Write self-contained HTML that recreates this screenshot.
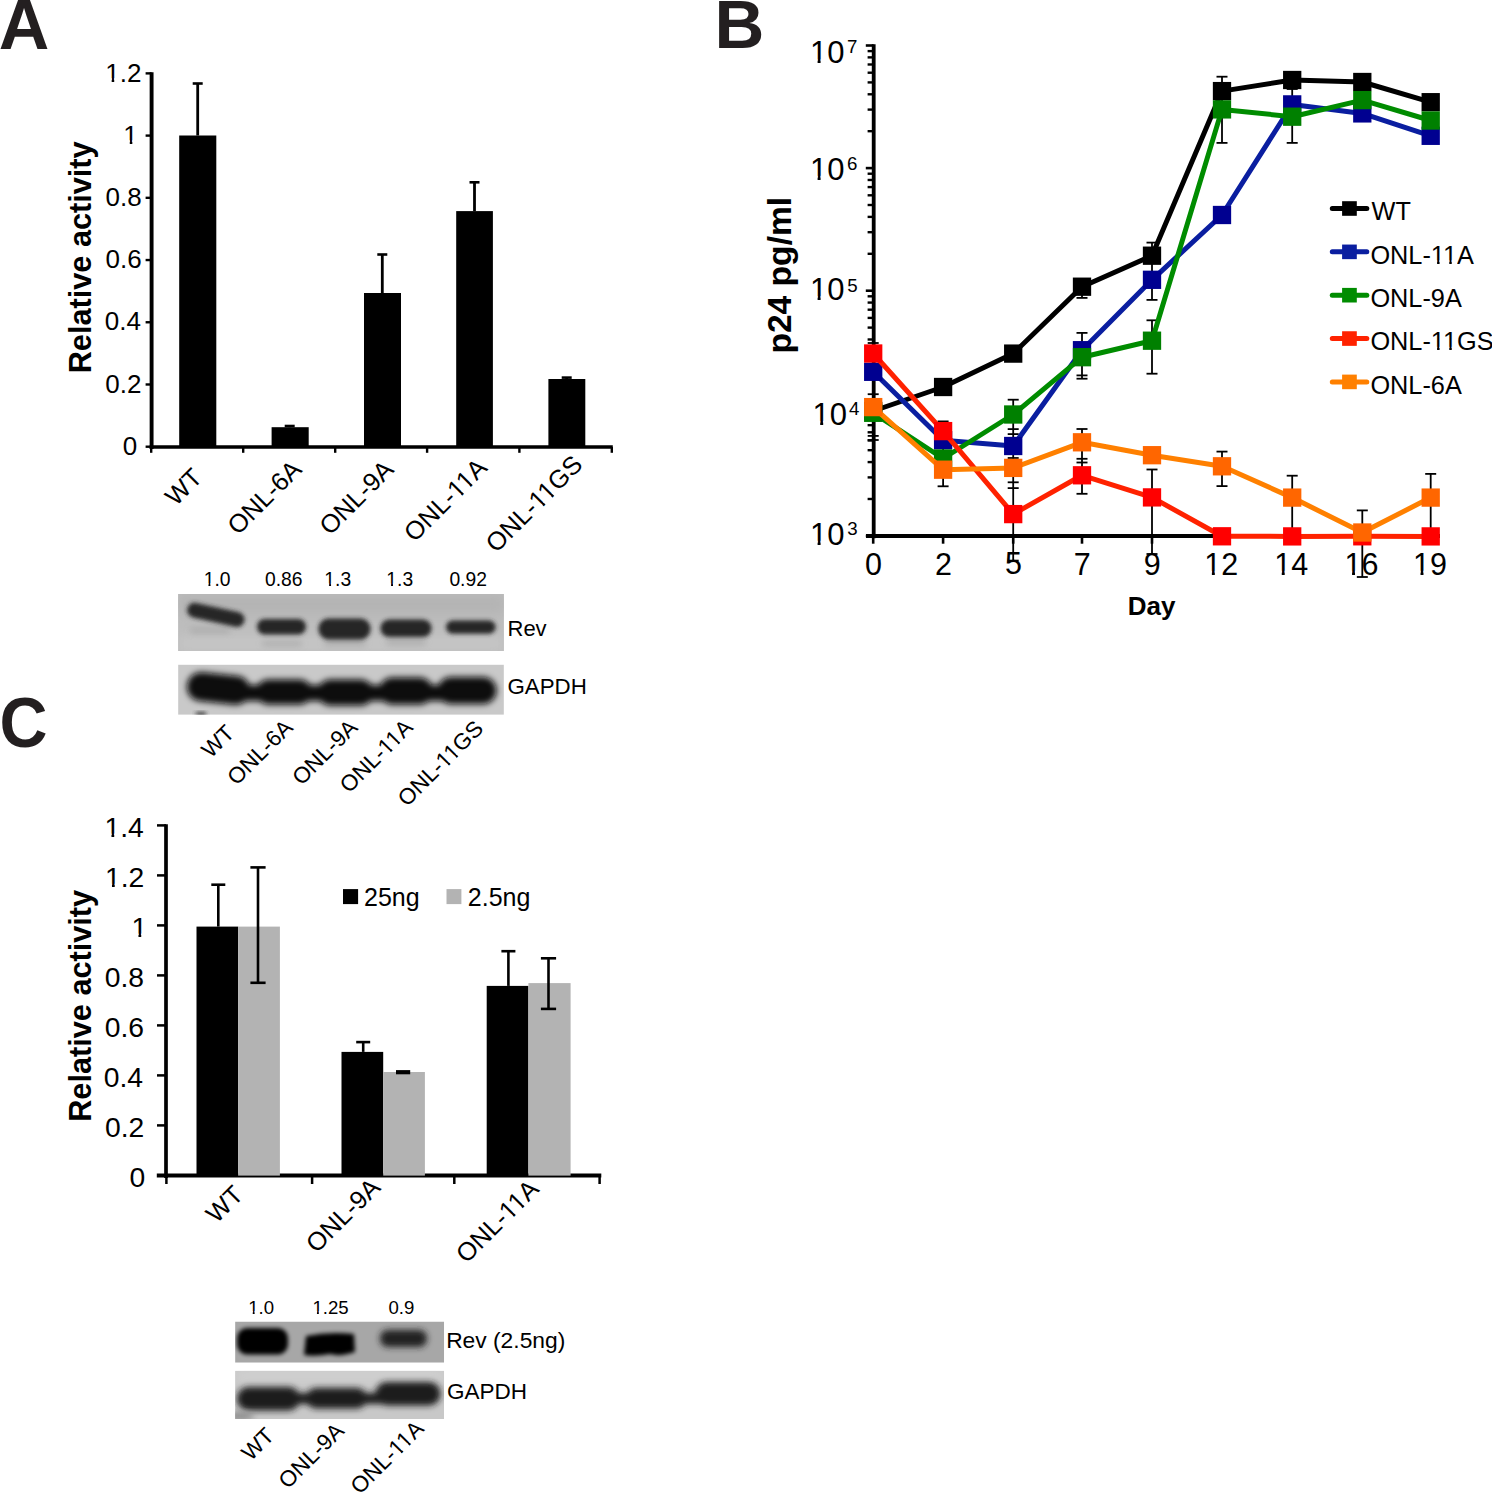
<!DOCTYPE html>
<html><head><meta charset="utf-8"><style>
html,body{margin:0;padding:0;background:#fff;}
svg{display:block;}
text{font-family:"Liberation Sans",sans-serif;}
</style></head><body>
<svg width="1492" height="1492" viewBox="0 0 1492 1492">
<rect width="1492" height="1492" fill="#fff"/>

<defs>
<filter id="b2" x="-20%" y="-50%" width="140%" height="200%"><feGaussianBlur stdDeviation="2.2"/></filter>
<filter id="b3" x="-20%" y="-50%" width="140%" height="200%"><feGaussianBlur stdDeviation="3"/></filter>
<filter id="b6" x="-20%" y="-50%" width="140%" height="200%"><feGaussianBlur stdDeviation="6"/></filter>
<clipPath id="cA1"><rect x="178.1" y="594" width="325.8" height="57"/></clipPath>
<clipPath id="cA2"><rect x="178.1" y="664.6" width="325.8" height="50.2"/></clipPath>
<clipPath id="cC1"><rect x="235.1" y="1321.5" width="209" height="41.2"/></clipPath>
<clipPath id="cC2"><rect x="235.1" y="1370.8" width="209" height="48.2"/></clipPath>
</defs>
<g clip-path="url(#cA1)">
<rect x="178.1" y="594" width="325.8" height="57" fill="#bdbdbd"/>
<rect x="178.1" y="594" width="325.8" height="20" fill="#b4b4b4" filter="url(#b6)"/>
<rect x="178.1" y="636" width="325.8" height="15" fill="#c6c6c6" filter="url(#b6)"/>
<g filter="url(#b3)" fill="#9a9a9a" opacity="0.55">
<rect x="262" y="641" width="40" height="5" rx="2"/>
<rect x="324" y="639" width="42" height="7" rx="3"/>
<rect x="386" y="639" width="40" height="6" rx="3"/>
<rect x="190" y="628" width="40" height="5" rx="2"/>
</g>
<g filter="url(#b2)" fill="#262626">
<path d="M196 603 L238 612 A7.5 7.5 0 0 1 236 627 L193 617.5 A7.2 7.2 0 0 1 196 603 Z"/>
<rect x="257" y="619" width="49" height="15.5" rx="7.7"/>
<rect x="318.5" y="618.5" width="52" height="21" rx="10"/>
<rect x="380.5" y="619.5" width="51" height="17.5" rx="8.7"/>
<rect x="446" y="620.5" width="49.6" height="13.2" rx="6.6"/>
</g>
</g>
<g clip-path="url(#cA2)">
<rect x="178.1" y="664.6" width="325.8" height="50.2" fill="#c9c9c9"/>
<g filter="url(#b3)" fill="#0a0a0a">
<rect x="187" y="674" width="63" height="29" rx="14" transform="rotate(6 218.5 688.5)"/>
<rect x="256" y="679.5" width="56" height="25" rx="12.5"/>
<rect x="317.5" y="679.5" width="56" height="26" rx="13"/>
<rect x="379" y="677.5" width="54" height="27" rx="13.5"/>
<rect x="437.5" y="677" width="59" height="27" rx="13.5"/>
<rect x="200" y="685" width="290" height="16"/>
</g>
<ellipse cx="201" cy="714" rx="6" ry="2" fill="#333" filter="url(#b2)"/>
</g>
<g clip-path="url(#cC1)">
<rect x="235.1" y="1321.5" width="209" height="41.2" fill="#a7a7a7"/>
<g filter="url(#b2)">
<rect x="237" y="1328" width="51" height="26.5" rx="10" fill="#050505"/>
<path d="M306 1336 Q330 1331 354 1334 L355 1352 Q340 1357 330 1354 Q315 1357 304 1355 Z" fill="#050505"/>
</g>
<g filter="url(#b3)">
<rect x="380" y="1330" width="47" height="17" rx="8" fill="#202020"/>
</g>
</g>
<g clip-path="url(#cC2)">
<rect x="235.1" y="1370.8" width="209" height="48.2" fill="#c8c8c8"/>
<rect x="235.1" y="1370.8" width="209" height="10" fill="#d2d2d2" filter="url(#b6)"/>
<g filter="url(#b3)" fill="#1c1c1c">
<rect x="237" y="1387" width="63" height="23.5" rx="11.7"/>
<rect x="306" y="1388" width="61" height="20.5" rx="10.2"/>
<rect x="375.5" y="1382" width="65" height="23.5" rx="11.7"/>
<rect x="285" y="1393" width="105" height="11"/>
</g>
<ellipse cx="240" cy="1416" rx="14" ry="4" fill="#8a8a8a" filter="url(#b3)"/>
</g>
<text x="-1.38" y="48.73" font-size="70" font-weight="bold" fill="#231f20">A</text>
<text x="714.55" y="48.39" font-size="69" font-weight="bold" fill="#231f20">B</text>
<text transform="translate(-0.45 747.13) scale(0.95 1)" font-size="70" font-weight="bold" fill="#231f20">C</text>
<line x1="151.6" y1="72.3" x2="151.6" y2="449" stroke="#000" stroke-width="3.9" stroke-linecap="butt"/>
<line x1="145.6" y1="446.7" x2="151.6" y2="446.7" stroke="#000" stroke-width="2.4" stroke-linecap="butt"/>
<line x1="145.6" y1="384.48" x2="151.6" y2="384.48" stroke="#000" stroke-width="2.4" stroke-linecap="butt"/>
<line x1="145.6" y1="322.26" x2="151.6" y2="322.26" stroke="#000" stroke-width="2.4" stroke-linecap="butt"/>
<line x1="145.6" y1="260.04" x2="151.6" y2="260.04" stroke="#000" stroke-width="2.4" stroke-linecap="butt"/>
<line x1="145.6" y1="197.82" x2="151.6" y2="197.82" stroke="#000" stroke-width="2.4" stroke-linecap="butt"/>
<line x1="145.6" y1="135.6" x2="151.6" y2="135.6" stroke="#000" stroke-width="2.4" stroke-linecap="butt"/>
<line x1="145.6" y1="73.38" x2="151.6" y2="73.38" stroke="#000" stroke-width="2.4" stroke-linecap="butt"/>
<line x1="149.7" y1="447" x2="612.8" y2="447" stroke="#000" stroke-width="3.6" stroke-linecap="butt"/>
<line x1="151.2" y1="447" x2="151.2" y2="452.8" stroke="#000" stroke-width="2.4" stroke-linecap="butt"/>
<line x1="243.2" y1="447" x2="243.2" y2="452.8" stroke="#000" stroke-width="2.4" stroke-linecap="butt"/>
<line x1="335.2" y1="447" x2="335.2" y2="452.8" stroke="#000" stroke-width="2.4" stroke-linecap="butt"/>
<line x1="427.1" y1="447" x2="427.1" y2="452.8" stroke="#000" stroke-width="2.4" stroke-linecap="butt"/>
<line x1="519.4" y1="447" x2="519.4" y2="452.8" stroke="#000" stroke-width="2.4" stroke-linecap="butt"/>
<line x1="611.8" y1="447" x2="611.8" y2="452.8" stroke="#000" stroke-width="2.4" stroke-linecap="butt"/>
<text x="122.73" y="454.84" font-size="26" fill="#000">0</text>
<text x="105.26" y="392.62" font-size="26" fill="#000">0.2</text>
<text x="104.81" y="330.4" font-size="26" fill="#000">0.4</text>
<text x="105.48" y="268.18" font-size="26" fill="#000">0.6</text>
<text x="105.48" y="205.96" font-size="26" fill="#000">0.8</text>
<text id="t1_1" x="123.36" y="143.74" font-size="26" fill="#000">1</text>
<g fill="#fff"><rect x="123.54" y="140.2" width="6.24" height="4.54"/><rect x="132.32" y="140.2" width="5.44" height="4.54"/></g>
<text id="t1_2" x="105.26" y="81.65" font-size="26" fill="#000">1.2</text>
<g fill="#fff"><rect x="105.44" y="78.11" width="6.24" height="4.54"/><rect x="114.22" y="78.11" width="5.44" height="4.54"/></g>
<text transform="translate(91.46 373.33) rotate(-90)" font-size="30.7" font-weight="bold" fill="#000">Relative activity</text>
<rect x="179.2" y="135.5" width="37.1" height="311.5" fill="#000"/>
<line x1="197.7" y1="135.5" x2="197.7" y2="83.5" stroke="#000" stroke-width="2.8" stroke-linecap="butt"/>
<line x1="192.7" y1="83.5" x2="202.7" y2="83.5" stroke="#000" stroke-width="2.6" stroke-linecap="butt"/>
<rect x="271.6" y="427.2" width="37.1" height="19.8" fill="#000"/>
<line x1="289.7" y1="427.2" x2="289.7" y2="426" stroke="#000" stroke-width="2.8" stroke-linecap="butt"/>
<line x1="284.7" y1="426" x2="294.7" y2="426" stroke="#000" stroke-width="2.6" stroke-linecap="butt"/>
<rect x="364" y="293" width="37" height="154" fill="#000"/>
<line x1="382.3" y1="293" x2="382.3" y2="254.5" stroke="#000" stroke-width="2.8" stroke-linecap="butt"/>
<line x1="377.3" y1="254.5" x2="387.3" y2="254.5" stroke="#000" stroke-width="2.6" stroke-linecap="butt"/>
<rect x="456.2" y="211.1" width="36.7" height="235.9" fill="#000"/>
<line x1="474.5" y1="211.1" x2="474.5" y2="182.3" stroke="#000" stroke-width="2.8" stroke-linecap="butt"/>
<line x1="469.5" y1="182.3" x2="479.5" y2="182.3" stroke="#000" stroke-width="2.6" stroke-linecap="butt"/>
<rect x="548.4" y="379" width="36.9" height="68" fill="#000"/>
<line x1="566.7" y1="379" x2="566.7" y2="377.6" stroke="#000" stroke-width="2.8" stroke-linecap="butt"/>
<line x1="561.7" y1="377.6" x2="571.7" y2="377.6" stroke="#000" stroke-width="2.6" stroke-linecap="butt"/>
<text transform="translate(203.7 478.9) rotate(-45)" font-size="25.5" text-anchor="end" fill="#000">WT</text>
<text transform="translate(303.05 470.95) rotate(-45)" font-size="25.5" text-anchor="end" fill="#000">ONL-6A</text>
<text transform="translate(395.05 471.05) rotate(-45)" font-size="25.5" text-anchor="end" fill="#000">ONL-9A</text>
<text id="t1_3" transform="translate(488.45 469.25) rotate(-45)" font-size="25.5" text-anchor="end" fill="#000">ONL-11A</text>
<g fill="#fff" transform="translate(488.45 469.25) rotate(-45)"><rect x="-43.34" y="-3.51" width="6.15" height="4.51"/><rect x="-34.7" y="-3.51" width="5.35" height="4.51"/><rect x="-31.06" y="-3.51" width="6.15" height="4.51"/><rect x="-22.42" y="-3.51" width="5.35" height="4.51"/></g>
<text id="t1_4" transform="translate(584.05 465.9) rotate(-45)" font-size="25.5" text-anchor="end" fill="#000">ONL-11GS</text>
<g fill="#fff" transform="translate(584.05 465.9) rotate(-45)"><rect x="-63.18" y="-3.51" width="6.15" height="4.51"/><rect x="-54.54" y="-3.51" width="5.35" height="4.51"/><rect x="-50.9" y="-3.51" width="6.15" height="4.51"/><rect x="-42.26" y="-3.51" width="5.35" height="4.51"/></g>
<text id="t1_5" x="203.72" y="586.44" font-size="19.3" fill="#000">1.0</text>
<g fill="#fff"><rect x="203.44" y="583.4" width="5.01" height="4.04"/><rect x="210.4" y="583.4" width="4.26" height="4.04"/></g>
<text x="264.96" y="586.44" font-size="19.3" fill="#000">0.86</text>
<text id="t1_6" x="324.37" y="586.44" font-size="19.3" fill="#000">1.3</text>
<g fill="#fff"><rect x="324.09" y="583.4" width="5.01" height="4.04"/><rect x="331.05" y="583.4" width="4.26" height="4.04"/></g>
<text id="t1_7" x="386.32" y="586.44" font-size="19.3" fill="#000">1.3</text>
<g fill="#fff"><rect x="386.04" y="583.4" width="5.01" height="4.04"/><rect x="393" y="583.4" width="4.26" height="4.04"/></g>
<text x="449.38" y="586.44" font-size="19.3" fill="#000">0.92</text>
<text x="507.5" y="635.66" font-size="22" fill="#000">Rev</text>
<text x="507.49" y="694.22" font-size="22.3" fill="#000">GAPDH</text>
<text transform="translate(235.6 734.25) rotate(-45)" font-size="22.5" text-anchor="end" fill="#000">WT</text>
<text transform="translate(294 728.9) rotate(-45)" font-size="22.5" text-anchor="end" fill="#000">ONL-6A</text>
<text transform="translate(358.9 728.85) rotate(-45)" font-size="22.5" text-anchor="end" fill="#000">ONL-9A</text>
<text id="t1_8" transform="translate(414.2 728.75) rotate(-45)" font-size="22.5" text-anchor="end" fill="#000">ONL-11A</text>
<g fill="#fff" transform="translate(414.2 728.75) rotate(-45)"><rect x="-38.44" y="-3.28" width="5.6" height="4.28"/><rect x="-30.61" y="-3.28" width="4.82" height="4.28"/><rect x="-27.59" y="-3.28" width="5.6" height="4.28"/><rect x="-19.76" y="-3.28" width="4.82" height="4.28"/></g>
<text id="t1_9" transform="translate(484.6 729.9) rotate(-45)" font-size="22.5" text-anchor="end" fill="#000">ONL-11GS</text>
<g fill="#fff" transform="translate(484.6 729.9) rotate(-45)"><rect x="-55.94" y="-3.28" width="5.6" height="4.28"/><rect x="-48.11" y="-3.28" width="4.82" height="4.28"/><rect x="-45.09" y="-3.28" width="5.6" height="4.28"/><rect x="-37.26" y="-3.28" width="4.82" height="4.28"/></g>
<line x1="873.7" y1="44.2" x2="873.7" y2="538.2" stroke="#000" stroke-width="3.8" stroke-linecap="butt"/>
<line x1="865.8" y1="535.9" x2="873.7" y2="535.9" stroke="#000" stroke-width="2.6" stroke-linecap="butt"/>
<line x1="867.6" y1="498.99" x2="873.7" y2="498.99" stroke="#000" stroke-width="2.4" stroke-linecap="butt"/>
<line x1="867.6" y1="477.4" x2="873.7" y2="477.4" stroke="#000" stroke-width="2.4" stroke-linecap="butt"/>
<line x1="867.6" y1="462.09" x2="873.7" y2="462.09" stroke="#000" stroke-width="2.4" stroke-linecap="butt"/>
<line x1="867.6" y1="450.21" x2="873.7" y2="450.21" stroke="#000" stroke-width="2.4" stroke-linecap="butt"/>
<line x1="867.6" y1="440.5" x2="873.7" y2="440.5" stroke="#000" stroke-width="2.4" stroke-linecap="butt"/>
<line x1="867.6" y1="432.29" x2="873.7" y2="432.29" stroke="#000" stroke-width="2.4" stroke-linecap="butt"/>
<line x1="867.6" y1="425.18" x2="873.7" y2="425.18" stroke="#000" stroke-width="2.4" stroke-linecap="butt"/>
<line x1="867.6" y1="418.91" x2="873.7" y2="418.91" stroke="#000" stroke-width="2.4" stroke-linecap="butt"/>
<line x1="865.8" y1="413.3" x2="873.7" y2="413.3" stroke="#000" stroke-width="2.6" stroke-linecap="butt"/>
<line x1="867.6" y1="376.39" x2="873.7" y2="376.39" stroke="#000" stroke-width="2.4" stroke-linecap="butt"/>
<line x1="867.6" y1="354.8" x2="873.7" y2="354.8" stroke="#000" stroke-width="2.4" stroke-linecap="butt"/>
<line x1="867.6" y1="339.49" x2="873.7" y2="339.49" stroke="#000" stroke-width="2.4" stroke-linecap="butt"/>
<line x1="867.6" y1="327.61" x2="873.7" y2="327.61" stroke="#000" stroke-width="2.4" stroke-linecap="butt"/>
<line x1="867.6" y1="317.9" x2="873.7" y2="317.9" stroke="#000" stroke-width="2.4" stroke-linecap="butt"/>
<line x1="867.6" y1="309.69" x2="873.7" y2="309.69" stroke="#000" stroke-width="2.4" stroke-linecap="butt"/>
<line x1="867.6" y1="302.58" x2="873.7" y2="302.58" stroke="#000" stroke-width="2.4" stroke-linecap="butt"/>
<line x1="867.6" y1="296.31" x2="873.7" y2="296.31" stroke="#000" stroke-width="2.4" stroke-linecap="butt"/>
<line x1="865.8" y1="290.7" x2="873.7" y2="290.7" stroke="#000" stroke-width="2.6" stroke-linecap="butt"/>
<line x1="867.6" y1="253.79" x2="873.7" y2="253.79" stroke="#000" stroke-width="2.4" stroke-linecap="butt"/>
<line x1="867.6" y1="232.2" x2="873.7" y2="232.2" stroke="#000" stroke-width="2.4" stroke-linecap="butt"/>
<line x1="867.6" y1="216.89" x2="873.7" y2="216.89" stroke="#000" stroke-width="2.4" stroke-linecap="butt"/>
<line x1="867.6" y1="205.01" x2="873.7" y2="205.01" stroke="#000" stroke-width="2.4" stroke-linecap="butt"/>
<line x1="867.6" y1="195.3" x2="873.7" y2="195.3" stroke="#000" stroke-width="2.4" stroke-linecap="butt"/>
<line x1="867.6" y1="187.09" x2="873.7" y2="187.09" stroke="#000" stroke-width="2.4" stroke-linecap="butt"/>
<line x1="867.6" y1="179.98" x2="873.7" y2="179.98" stroke="#000" stroke-width="2.4" stroke-linecap="butt"/>
<line x1="867.6" y1="173.71" x2="873.7" y2="173.71" stroke="#000" stroke-width="2.4" stroke-linecap="butt"/>
<line x1="865.8" y1="168.1" x2="873.7" y2="168.1" stroke="#000" stroke-width="2.6" stroke-linecap="butt"/>
<line x1="867.6" y1="131.19" x2="873.7" y2="131.19" stroke="#000" stroke-width="2.4" stroke-linecap="butt"/>
<line x1="867.6" y1="109.6" x2="873.7" y2="109.6" stroke="#000" stroke-width="2.4" stroke-linecap="butt"/>
<line x1="867.6" y1="94.29" x2="873.7" y2="94.29" stroke="#000" stroke-width="2.4" stroke-linecap="butt"/>
<line x1="867.6" y1="82.41" x2="873.7" y2="82.41" stroke="#000" stroke-width="2.4" stroke-linecap="butt"/>
<line x1="867.6" y1="72.7" x2="873.7" y2="72.7" stroke="#000" stroke-width="2.4" stroke-linecap="butt"/>
<line x1="867.6" y1="64.49" x2="873.7" y2="64.49" stroke="#000" stroke-width="2.4" stroke-linecap="butt"/>
<line x1="867.6" y1="57.38" x2="873.7" y2="57.38" stroke="#000" stroke-width="2.4" stroke-linecap="butt"/>
<line x1="867.6" y1="51.11" x2="873.7" y2="51.11" stroke="#000" stroke-width="2.4" stroke-linecap="butt"/>
<line x1="865.8" y1="45.5" x2="873.7" y2="45.5" stroke="#000" stroke-width="2.6" stroke-linecap="butt"/>
<line x1="866" y1="536.1" x2="1440" y2="536.1" stroke="#000" stroke-width="4" stroke-linecap="butt"/>
<line x1="873.2" y1="536" x2="873.2" y2="543.7" stroke="#000" stroke-width="2.6" stroke-linecap="butt"/>
<line x1="943.1" y1="536" x2="943.1" y2="543.7" stroke="#000" stroke-width="2.6" stroke-linecap="butt"/>
<line x1="1013.2" y1="536" x2="1013.2" y2="543.7" stroke="#000" stroke-width="2.6" stroke-linecap="butt"/>
<line x1="1082" y1="536" x2="1082" y2="543.7" stroke="#000" stroke-width="2.6" stroke-linecap="butt"/>
<line x1="1152" y1="536" x2="1152" y2="543.7" stroke="#000" stroke-width="2.6" stroke-linecap="butt"/>
<line x1="1222" y1="536" x2="1222" y2="543.7" stroke="#000" stroke-width="2.6" stroke-linecap="butt"/>
<line x1="1292.2" y1="536" x2="1292.2" y2="543.7" stroke="#000" stroke-width="2.6" stroke-linecap="butt"/>
<line x1="1362.3" y1="536" x2="1362.3" y2="543.7" stroke="#000" stroke-width="2.6" stroke-linecap="butt"/>
<line x1="1430.7" y1="536" x2="1430.7" y2="543.7" stroke="#000" stroke-width="2.6" stroke-linecap="butt"/>
<text id="t1_10" x="809.92" y="63.31" font-size="31" fill="#000">10</text>
<g fill="#fff"><rect x="810.44" y="59.39" width="7.16" height="4.92"/><rect x="820.58" y="59.39" width="6.31" height="4.92"/></g>
<text x="847.05" y="53.48" font-size="18.7" fill="#000">7</text>
<text id="t1_11" x="809.92" y="179.76" font-size="31" fill="#000">10</text>
<g fill="#fff"><rect x="810.44" y="175.84" width="7.16" height="4.92"/><rect x="820.58" y="175.84" width="6.31" height="4.92"/></g>
<text x="847.07" y="169.83" font-size="18.7" fill="#000">6</text>
<text id="t1_12" x="809.92" y="300.11" font-size="31" fill="#000">10</text>
<g fill="#fff"><rect x="810.44" y="296.19" width="7.16" height="4.92"/><rect x="820.58" y="296.19" width="6.31" height="4.92"/></g>
<text x="847.25" y="291.74" font-size="18.7" fill="#000">5</text>
<text id="t1_13" x="812.52" y="424.81" font-size="31" fill="#000">10</text>
<g fill="#fff"><rect x="813.04" y="420.89" width="7.16" height="4.92"/><rect x="823.18" y="420.89" width="6.31" height="4.92"/></g>
<text x="849.09" y="415.18" font-size="18.7" fill="#000">4</text>
<text id="t1_14" x="809.92" y="544.66" font-size="31" fill="#000">10</text>
<g fill="#fff"><rect x="810.44" y="540.74" width="7.16" height="4.92"/><rect x="820.58" y="540.74" width="6.31" height="4.92"/></g>
<text x="847.29" y="534.73" font-size="18.7" fill="#000">3</text>
<text x="865.01" y="574.59" font-size="30.5" fill="#000">0</text>
<text x="934.92" y="574.74" font-size="30.5" fill="#000">2</text>
<text x="1005.04" y="574.44" font-size="30.5" fill="#000">5</text>
<text x="1073.81" y="574.59" font-size="30.5" fill="#000">7</text>
<text x="1143.84" y="574.59" font-size="30.5" fill="#000">9</text>
<text id="t1_15" x="1204.33" y="574.74" font-size="30.5" fill="#000">12</text>
<g fill="#fff"><rect x="1204.81" y="570.86" width="7.06" height="4.88"/><rect x="1214.82" y="570.86" width="6.23" height="4.88"/></g>
<text id="t1_16" x="1274.21" y="574.59" font-size="30.5" fill="#000">14</text>
<g fill="#fff"><rect x="1274.69" y="570.71" width="7.06" height="4.88"/><rect x="1284.7" y="570.71" width="6.23" height="4.88"/></g>
<text id="t1_17" x="1344.52" y="574.59" font-size="30.5" fill="#000">16</text>
<g fill="#fff"><rect x="1345" y="570.71" width="7.06" height="4.88"/><rect x="1355.01" y="570.71" width="6.23" height="4.88"/></g>
<text id="t1_18" x="1412.98" y="574.59" font-size="30.5" fill="#000">19</text>
<g fill="#fff"><rect x="1413.46" y="570.71" width="7.06" height="4.88"/><rect x="1423.47" y="570.71" width="6.23" height="4.88"/></g>
<text x="1127.82" y="615.3" font-size="26" font-weight="bold" fill="#000">Day</text>
<text transform="translate(790.96 353.58) rotate(-90)" font-size="33.6" font-weight="bold" fill="#000">p24 pg/ml</text>
<line x1="873.2" y1="343" x2="873.2" y2="440" stroke="#000" stroke-width="1.8" stroke-linecap="butt"/>
<line x1="867.7" y1="343" x2="878.7" y2="343" stroke="#000" stroke-width="1.8" stroke-linecap="butt"/>
<line x1="867.7" y1="440" x2="878.7" y2="440" stroke="#000" stroke-width="1.8" stroke-linecap="butt"/>
<line x1="867.7" y1="394.2" x2="878.7" y2="394.2" stroke="#000" stroke-width="1.8" stroke-linecap="butt"/>
<line x1="867.7" y1="435.9" x2="878.7" y2="435.9" stroke="#000" stroke-width="1.8" stroke-linecap="butt"/>
<line x1="943.1" y1="421.4" x2="943.1" y2="486.3" stroke="#000" stroke-width="1.8" stroke-linecap="butt"/>
<line x1="937.6" y1="421.4" x2="948.6" y2="421.4" stroke="#000" stroke-width="1.8" stroke-linecap="butt"/>
<line x1="937.6" y1="486.3" x2="948.6" y2="486.3" stroke="#000" stroke-width="1.8" stroke-linecap="butt"/>
<line x1="1013.2" y1="399.7" x2="1013.2" y2="560.6" stroke="#000" stroke-width="1.8" stroke-linecap="butt"/>
<line x1="1007.7" y1="399.7" x2="1018.7" y2="399.7" stroke="#000" stroke-width="1.8" stroke-linecap="butt"/>
<line x1="1007.7" y1="560.6" x2="1018.7" y2="560.6" stroke="#000" stroke-width="1.8" stroke-linecap="butt"/>
<line x1="1007.7" y1="429.1" x2="1018.7" y2="429.1" stroke="#000" stroke-width="1.8" stroke-linecap="butt"/>
<line x1="1007.7" y1="434.1" x2="1018.7" y2="434.1" stroke="#000" stroke-width="1.8" stroke-linecap="butt"/>
<line x1="1007.7" y1="458" x2="1018.7" y2="458" stroke="#000" stroke-width="1.8" stroke-linecap="butt"/>
<line x1="1007.7" y1="482.3" x2="1018.7" y2="482.3" stroke="#000" stroke-width="1.8" stroke-linecap="butt"/>
<line x1="1007.7" y1="488.1" x2="1018.7" y2="488.1" stroke="#000" stroke-width="1.8" stroke-linecap="butt"/>
<line x1="1082" y1="286.7" x2="1082" y2="297.9" stroke="#000" stroke-width="1.8" stroke-linecap="butt"/>
<line x1="1076.5" y1="286.7" x2="1087.5" y2="286.7" stroke="#000" stroke-width="1.8" stroke-linecap="butt"/>
<line x1="1076.5" y1="297.9" x2="1087.5" y2="297.9" stroke="#000" stroke-width="1.8" stroke-linecap="butt"/>
<line x1="1082" y1="332.9" x2="1082" y2="378.7" stroke="#000" stroke-width="1.8" stroke-linecap="butt"/>
<line x1="1076.5" y1="332.9" x2="1087.5" y2="332.9" stroke="#000" stroke-width="1.8" stroke-linecap="butt"/>
<line x1="1076.5" y1="378.7" x2="1087.5" y2="378.7" stroke="#000" stroke-width="1.8" stroke-linecap="butt"/>
<line x1="1076.5" y1="375.4" x2="1087.5" y2="375.4" stroke="#000" stroke-width="1.8" stroke-linecap="butt"/>
<line x1="1082" y1="429" x2="1082" y2="493.8" stroke="#000" stroke-width="1.8" stroke-linecap="butt"/>
<line x1="1076.5" y1="429" x2="1087.5" y2="429" stroke="#000" stroke-width="1.8" stroke-linecap="butt"/>
<line x1="1076.5" y1="493.8" x2="1087.5" y2="493.8" stroke="#000" stroke-width="1.8" stroke-linecap="butt"/>
<line x1="1076.5" y1="458.8" x2="1087.5" y2="458.8" stroke="#000" stroke-width="1.8" stroke-linecap="butt"/>
<line x1="1076.5" y1="462.5" x2="1087.5" y2="462.5" stroke="#000" stroke-width="1.8" stroke-linecap="butt"/>
<line x1="1152" y1="242.6" x2="1152" y2="299.9" stroke="#000" stroke-width="1.8" stroke-linecap="butt"/>
<line x1="1146.5" y1="242.6" x2="1157.5" y2="242.6" stroke="#000" stroke-width="1.8" stroke-linecap="butt"/>
<line x1="1146.5" y1="299.9" x2="1157.5" y2="299.9" stroke="#000" stroke-width="1.8" stroke-linecap="butt"/>
<line x1="1152" y1="320.3" x2="1152" y2="373.7" stroke="#000" stroke-width="1.8" stroke-linecap="butt"/>
<line x1="1146.5" y1="320.3" x2="1157.5" y2="320.3" stroke="#000" stroke-width="1.8" stroke-linecap="butt"/>
<line x1="1146.5" y1="373.7" x2="1157.5" y2="373.7" stroke="#000" stroke-width="1.8" stroke-linecap="butt"/>
<line x1="1152" y1="469.5" x2="1152" y2="554" stroke="#000" stroke-width="1.8" stroke-linecap="butt"/>
<line x1="1146.5" y1="469.5" x2="1157.5" y2="469.5" stroke="#000" stroke-width="1.8" stroke-linecap="butt"/>
<line x1="1146.5" y1="554" x2="1157.5" y2="554" stroke="#000" stroke-width="1.8" stroke-linecap="butt"/>
<line x1="1222" y1="76.7" x2="1222" y2="142.9" stroke="#000" stroke-width="1.8" stroke-linecap="butt"/>
<line x1="1216.5" y1="76.7" x2="1227.5" y2="76.7" stroke="#000" stroke-width="1.8" stroke-linecap="butt"/>
<line x1="1216.5" y1="142.9" x2="1227.5" y2="142.9" stroke="#000" stroke-width="1.8" stroke-linecap="butt"/>
<line x1="1222" y1="451.6" x2="1222" y2="486.1" stroke="#000" stroke-width="1.8" stroke-linecap="butt"/>
<line x1="1216.5" y1="451.6" x2="1227.5" y2="451.6" stroke="#000" stroke-width="1.8" stroke-linecap="butt"/>
<line x1="1216.5" y1="486.1" x2="1227.5" y2="486.1" stroke="#000" stroke-width="1.8" stroke-linecap="butt"/>
<line x1="1292.2" y1="89" x2="1292.2" y2="142.9" stroke="#000" stroke-width="1.8" stroke-linecap="butt"/>
<line x1="1286.7" y1="89" x2="1297.7" y2="89" stroke="#000" stroke-width="1.8" stroke-linecap="butt"/>
<line x1="1286.7" y1="142.9" x2="1297.7" y2="142.9" stroke="#000" stroke-width="1.8" stroke-linecap="butt"/>
<line x1="1292.2" y1="475.7" x2="1292.2" y2="530" stroke="#000" stroke-width="1.8" stroke-linecap="butt"/>
<line x1="1286.7" y1="475.7" x2="1297.7" y2="475.7" stroke="#000" stroke-width="1.8" stroke-linecap="butt"/>
<line x1="1362.3" y1="510.4" x2="1362.3" y2="577" stroke="#000" stroke-width="1.8" stroke-linecap="butt"/>
<line x1="1356.8" y1="510.4" x2="1367.8" y2="510.4" stroke="#000" stroke-width="1.8" stroke-linecap="butt"/>
<line x1="1356.8" y1="577" x2="1367.8" y2="577" stroke="#000" stroke-width="1.8" stroke-linecap="butt"/>
<line x1="1430.7" y1="473.9" x2="1430.7" y2="530" stroke="#000" stroke-width="1.8" stroke-linecap="butt"/>
<line x1="1425.2" y1="473.9" x2="1436.2" y2="473.9" stroke="#000" stroke-width="1.8" stroke-linecap="butt"/>
<polyline points="873.2,411 943.1,387 1013.2,353.6 1082,286.7 1152,255.7 1222,91.1 1292.2,80 1362.3,82 1430.7,102.2" fill="none" stroke="#000000" stroke-width="5" stroke-linejoin="round"/>
<rect x="864.05" y="401.85" width="18.3" height="18.3" fill="#000000"/>
<rect x="933.95" y="377.85" width="18.3" height="18.3" fill="#000000"/>
<rect x="1004.05" y="344.45" width="18.3" height="18.3" fill="#000000"/>
<rect x="1072.85" y="277.55" width="18.3" height="18.3" fill="#000000"/>
<rect x="1142.85" y="246.55" width="18.3" height="18.3" fill="#000000"/>
<rect x="1212.85" y="81.95" width="18.3" height="18.3" fill="#000000"/>
<rect x="1283.05" y="70.85" width="18.3" height="18.3" fill="#000000"/>
<rect x="1353.15" y="72.85" width="18.3" height="18.3" fill="#000000"/>
<rect x="1421.55" y="93.05" width="18.3" height="18.3" fill="#000000"/>
<polyline points="873.2,371.8 943.1,440.2 1013.2,446 1082,350.2 1152,279.8 1222,215 1292.2,104.4 1362.3,113.4 1430.7,135.8" fill="none" stroke="#0a1ea0" stroke-width="5" stroke-linejoin="round"/>
<rect x="864.05" y="362.65" width="18.3" height="18.3" fill="#000090"/>
<rect x="933.95" y="431.05" width="18.3" height="18.3" fill="#000090"/>
<rect x="1004.05" y="436.85" width="18.3" height="18.3" fill="#000090"/>
<rect x="1072.85" y="341.05" width="18.3" height="18.3" fill="#000090"/>
<rect x="1142.85" y="270.65" width="18.3" height="18.3" fill="#000090"/>
<rect x="1212.85" y="205.85" width="18.3" height="18.3" fill="#000090"/>
<rect x="1283.05" y="95.25" width="18.3" height="18.3" fill="#000090"/>
<rect x="1353.15" y="104.25" width="18.3" height="18.3" fill="#000090"/>
<rect x="1421.55" y="126.65" width="18.3" height="18.3" fill="#000090"/>
<polyline points="873.2,412.8 943.1,458.5 1013.2,414.5 1082,357.2 1152,340.7 1222,109.4 1292.2,116.7 1362.3,100.1 1430.7,120.5" fill="none" stroke="#008c00" stroke-width="5" stroke-linejoin="round"/>
<rect x="864.05" y="403.65" width="18.3" height="18.3" fill="#008000"/>
<rect x="933.95" y="449.35" width="18.3" height="18.3" fill="#008000"/>
<rect x="1004.05" y="405.35" width="18.3" height="18.3" fill="#008000"/>
<rect x="1072.85" y="348.05" width="18.3" height="18.3" fill="#008000"/>
<rect x="1142.85" y="331.55" width="18.3" height="18.3" fill="#008000"/>
<rect x="1212.85" y="100.25" width="18.3" height="18.3" fill="#008000"/>
<rect x="1283.05" y="107.55" width="18.3" height="18.3" fill="#008000"/>
<rect x="1353.15" y="90.95" width="18.3" height="18.3" fill="#008000"/>
<rect x="1421.55" y="111.35" width="18.3" height="18.3" fill="#008000"/>
<polyline points="873.2,353.5 943.1,431.1 1013.2,514.1 1082,475.3 1152,497.4 1222,536.3 1292.2,536.4 1362.3,536.3 1430.7,536.4" fill="none" stroke="#ff2200" stroke-width="5" stroke-linejoin="round"/>
<rect x="864.05" y="344.35" width="18.3" height="18.3" fill="#ff0000"/>
<rect x="933.95" y="421.95" width="18.3" height="18.3" fill="#ff0000"/>
<rect x="1004.05" y="504.95" width="18.3" height="18.3" fill="#ff0000"/>
<rect x="1072.85" y="466.15" width="18.3" height="18.3" fill="#ff0000"/>
<rect x="1142.85" y="488.25" width="18.3" height="18.3" fill="#ff0000"/>
<rect x="1212.85" y="527.15" width="18.3" height="18.3" fill="#ff0000"/>
<rect x="1283.05" y="527.25" width="18.3" height="18.3" fill="#ff0000"/>
<rect x="1353.15" y="527.15" width="18.3" height="18.3" fill="#ff0000"/>
<rect x="1421.55" y="527.25" width="18.3" height="18.3" fill="#ff0000"/>
<polyline points="873.2,407.1 943.1,469.7 1013.2,467.9 1082,442.3 1152,455.2 1222,466.3 1292.2,497.6 1362.3,532.5 1430.7,497.6" fill="none" stroke="#ff8000" stroke-width="5" stroke-linejoin="round"/>
<rect x="864.05" y="397.95" width="18.3" height="18.3" fill="#ff6600"/>
<rect x="933.95" y="460.55" width="18.3" height="18.3" fill="#ff6600"/>
<rect x="1004.05" y="458.75" width="18.3" height="18.3" fill="#ff6600"/>
<rect x="1072.85" y="433.15" width="18.3" height="18.3" fill="#ff6600"/>
<rect x="1142.85" y="446.05" width="18.3" height="18.3" fill="#ff6600"/>
<rect x="1212.85" y="457.15" width="18.3" height="18.3" fill="#ff6600"/>
<rect x="1283.05" y="488.45" width="18.3" height="18.3" fill="#ff6600"/>
<rect x="1353.15" y="523.35" width="18.3" height="18.3" fill="#ff6600"/>
<rect x="1421.55" y="488.45" width="18.3" height="18.3" fill="#ff6600"/>
<line x1="1332.3" y1="208.5" x2="1366.8" y2="208.5" stroke="#000000" stroke-width="5" stroke-linecap="round"/>
<rect x="1342.1" y="201.2" width="14.7" height="14.6" fill="#000000"/>
<text x="1371.5" y="220.4" font-size="25.3" fill="#000">WT</text>
<line x1="1332.3" y1="251.85" x2="1366.8" y2="251.85" stroke="#0a1ea0" stroke-width="5" stroke-linecap="round"/>
<rect x="1342.1" y="244.55" width="14.7" height="14.6" fill="#0a1ea0"/>
<text id="t1_19" x="1370.41" y="263.6" font-size="25.3" fill="#000">ONL-11A</text>
<g fill="#fff"><rect x="1430.98" y="260.11" width="6.11" height="4.49"/><rect x="1439.57" y="260.11" width="5.31" height="4.49"/><rect x="1443.16" y="260.11" width="6.11" height="4.49"/><rect x="1451.75" y="260.11" width="5.31" height="4.49"/></g>
<line x1="1332.3" y1="295.2" x2="1366.8" y2="295.2" stroke="#008c00" stroke-width="5" stroke-linecap="round"/>
<rect x="1342.1" y="287.9" width="14.7" height="14.6" fill="#008c00"/>
<text x="1370.41" y="306.95" font-size="25.3" fill="#000">ONL-9A</text>
<line x1="1332.3" y1="338.55" x2="1366.8" y2="338.55" stroke="#ff2200" stroke-width="5" stroke-linecap="round"/>
<rect x="1342.1" y="331.25" width="14.7" height="14.6" fill="#ff2200"/>
<text id="t1_20" x="1370.41" y="350.3" font-size="25.3" fill="#000">ONL-11GS</text>
<g fill="#fff"><rect x="1430.98" y="346.81" width="6.11" height="4.49"/><rect x="1439.57" y="346.81" width="5.31" height="4.49"/><rect x="1443.16" y="346.81" width="6.11" height="4.49"/><rect x="1451.75" y="346.81" width="5.31" height="4.49"/></g>
<line x1="1332.3" y1="381.9" x2="1366.8" y2="381.9" stroke="#ff8000" stroke-width="5" stroke-linecap="round"/>
<rect x="1342.1" y="374.6" width="14.7" height="14.6" fill="#ff8000"/>
<text x="1370.41" y="393.65" font-size="25.3" fill="#000">ONL-6A</text>
<line x1="166" y1="824.3" x2="166" y2="1178" stroke="#000" stroke-width="3.7" stroke-linecap="butt"/>
<line x1="157" y1="1175.4" x2="166" y2="1175.4" stroke="#000" stroke-width="2.5" stroke-linecap="butt"/>
<line x1="157" y1="1125.4" x2="166" y2="1125.4" stroke="#000" stroke-width="2.5" stroke-linecap="butt"/>
<line x1="157" y1="1075.4" x2="166" y2="1075.4" stroke="#000" stroke-width="2.5" stroke-linecap="butt"/>
<line x1="157" y1="1025.4" x2="166" y2="1025.4" stroke="#000" stroke-width="2.5" stroke-linecap="butt"/>
<line x1="157" y1="975.4" x2="166" y2="975.4" stroke="#000" stroke-width="2.5" stroke-linecap="butt"/>
<line x1="157" y1="925.4" x2="166" y2="925.4" stroke="#000" stroke-width="2.5" stroke-linecap="butt"/>
<line x1="157" y1="875.4" x2="166" y2="875.4" stroke="#000" stroke-width="2.5" stroke-linecap="butt"/>
<line x1="157" y1="825.4" x2="166" y2="825.4" stroke="#000" stroke-width="2.5" stroke-linecap="butt"/>
<line x1="156.8" y1="1175.6" x2="601.3" y2="1175.6" stroke="#000" stroke-width="4" stroke-linecap="butt"/>
<line x1="166.4" y1="1175.6" x2="166.4" y2="1184" stroke="#000" stroke-width="2.5" stroke-linecap="butt"/>
<line x1="312.1" y1="1175.6" x2="312.1" y2="1184" stroke="#000" stroke-width="2.5" stroke-linecap="butt"/>
<line x1="454.3" y1="1175.6" x2="454.3" y2="1184" stroke="#000" stroke-width="2.5" stroke-linecap="butt"/>
<line x1="599.6" y1="1175.6" x2="599.6" y2="1184" stroke="#000" stroke-width="2.5" stroke-linecap="butt"/>
<text x="129.54" y="1187.29" font-size="28.3" fill="#000">0</text>
<text x="104.98" y="1137.29" font-size="28.3" fill="#000">0.2</text>
<text x="103.78" y="1087.29" font-size="28.3" fill="#000">0.4</text>
<text x="104.78" y="1037.29" font-size="28.3" fill="#000">0.6</text>
<text x="104.78" y="987.29" font-size="28.3" fill="#000">0.8</text>
<text id="t1_21" x="131.48" y="937.29" font-size="28.3" fill="#000">1</text>
<g fill="#fff"><rect x="131.81" y="933.58" width="6.66" height="4.71"/><rect x="141.22" y="933.58" width="5.84" height="4.71"/></g>
<text id="t1_22" x="104.98" y="887.43" font-size="28.3" fill="#000">1.2</text>
<g fill="#fff"><rect x="105.31" y="883.72" width="6.66" height="4.71"/><rect x="114.72" y="883.72" width="5.84" height="4.71"/></g>
<text id="t1_23" x="104.48" y="837.29" font-size="28.3" fill="#000">1.4</text>
<g fill="#fff"><rect x="104.81" y="833.58" width="6.66" height="4.71"/><rect x="114.22" y="833.58" width="5.84" height="4.71"/></g>
<text transform="translate(90.96 1121.83) rotate(-90)" font-size="30.7" font-weight="bold" fill="#000">Relative activity</text>
<rect x="196.5" y="926.6" width="41.6" height="249" fill="#000"/>
<rect x="238.1" y="926.6" width="41.8" height="249" fill="#b3b3b3"/>
<rect x="341.5" y="1051.9" width="41.7" height="123.7" fill="#000"/>
<rect x="383.2" y="1072" width="41.7" height="103.6" fill="#b3b3b3"/>
<rect x="486.7" y="985.9" width="41.7" height="189.7" fill="#000"/>
<rect x="528.4" y="983.1" width="42.2" height="192.5" fill="#b3b3b3"/>
<line x1="218.3" y1="884.7" x2="218.3" y2="926.6" stroke="#000" stroke-width="2.6" stroke-linecap="butt"/>
<line x1="211.3" y1="884.7" x2="225.3" y2="884.7" stroke="#000" stroke-width="2.6" stroke-linecap="butt"/>
<line x1="258" y1="867.4" x2="258" y2="982.8" stroke="#000" stroke-width="2.6" stroke-linecap="butt"/>
<line x1="250.4" y1="867.4" x2="265.6" y2="867.4" stroke="#000" stroke-width="2.6" stroke-linecap="butt"/>
<line x1="250.4" y1="982.8" x2="265.6" y2="982.8" stroke="#000" stroke-width="2.6" stroke-linecap="butt"/>
<line x1="363.2" y1="1042.1" x2="363.2" y2="1051.9" stroke="#000" stroke-width="2.6" stroke-linecap="butt"/>
<line x1="356.2" y1="1042.1" x2="370.2" y2="1042.1" stroke="#000" stroke-width="2.6" stroke-linecap="butt"/>
<line x1="396" y1="1072.2" x2="410.2" y2="1072.2" stroke="#000" stroke-width="4.2" stroke-linecap="butt"/>
<line x1="508.4" y1="951.2" x2="508.4" y2="985.9" stroke="#000" stroke-width="2.6" stroke-linecap="butt"/>
<line x1="501.4" y1="951.2" x2="515.4" y2="951.2" stroke="#000" stroke-width="2.6" stroke-linecap="butt"/>
<line x1="548.5" y1="958.3" x2="548.5" y2="1008.9" stroke="#000" stroke-width="2.6" stroke-linecap="butt"/>
<line x1="540.9" y1="958.3" x2="556.1" y2="958.3" stroke="#000" stroke-width="2.6" stroke-linecap="butt"/>
<line x1="540.9" y1="1008.9" x2="556.1" y2="1008.9" stroke="#000" stroke-width="2.6" stroke-linecap="butt"/>
<rect x="343" y="889.1" width="15.1" height="15" fill="#000"/>
<text x="364.02" y="906.2" font-size="25" fill="#000">25ng</text>
<rect x="446.5" y="889.1" width="14.9" height="15" fill="#b3b3b3"/>
<text x="467.8" y="906.2" font-size="25" fill="#000">2.5ng</text>
<text transform="translate(244.65 1196.2) rotate(-45)" font-size="25.5" text-anchor="end" fill="#000">WT</text>
<text transform="translate(381.7 1188.9) rotate(-45)" font-size="25.5" text-anchor="end" fill="#000">ONL-9A</text>
<text id="t1_24" transform="translate(540.3 1190.5) rotate(-45)" font-size="25.5" text-anchor="end" fill="#000">ONL-11A</text>
<g fill="#fff" transform="translate(540.3 1190.5) rotate(-45)"><rect x="-43.34" y="-3.51" width="6.15" height="4.51"/><rect x="-34.7" y="-3.51" width="5.35" height="4.51"/><rect x="-31.06" y="-3.51" width="6.15" height="4.51"/><rect x="-22.42" y="-3.51" width="5.35" height="4.51"/></g>
<text id="t1_25" x="248.18" y="1313.9" font-size="18.6" fill="#000">1.0</text>
<g fill="#fff"><rect x="247.85" y="1310.91" width="4.89" height="3.99"/><rect x="254.62" y="1310.91" width="4.14" height="3.99"/></g>
<text id="t1_26" x="312.39" y="1313.9" font-size="18.6" fill="#000">1.25</text>
<g fill="#fff"><rect x="312.06" y="1310.91" width="4.89" height="3.99"/><rect x="318.83" y="1310.91" width="4.14" height="3.99"/></g>
<text x="388.4" y="1313.9" font-size="18.6" fill="#000">0.9</text>
<text x="446.16" y="1348" font-size="22.8" fill="#000">Rev (2.5ng)</text>
<text x="446.88" y="1399.34" font-size="22.5" fill="#000">GAPDH</text>
<text transform="translate(275.55 1436.95) rotate(-45)" font-size="22.5" text-anchor="end" fill="#000">WT</text>
<text transform="translate(345.25 1432.2) rotate(-45)" font-size="22.5" text-anchor="end" fill="#000">ONL-9A</text>
<text id="t1_27" transform="translate(425 1430) rotate(-45)" font-size="22.5" text-anchor="end" fill="#000">ONL-11A</text>
<g fill="#fff" transform="translate(425 1430) rotate(-45)"><rect x="-38.44" y="-3.28" width="5.6" height="4.28"/><rect x="-30.61" y="-3.28" width="4.82" height="4.28"/><rect x="-27.59" y="-3.28" width="5.6" height="4.28"/><rect x="-19.76" y="-3.28" width="4.82" height="4.28"/></g>
</svg>
</body></html>
